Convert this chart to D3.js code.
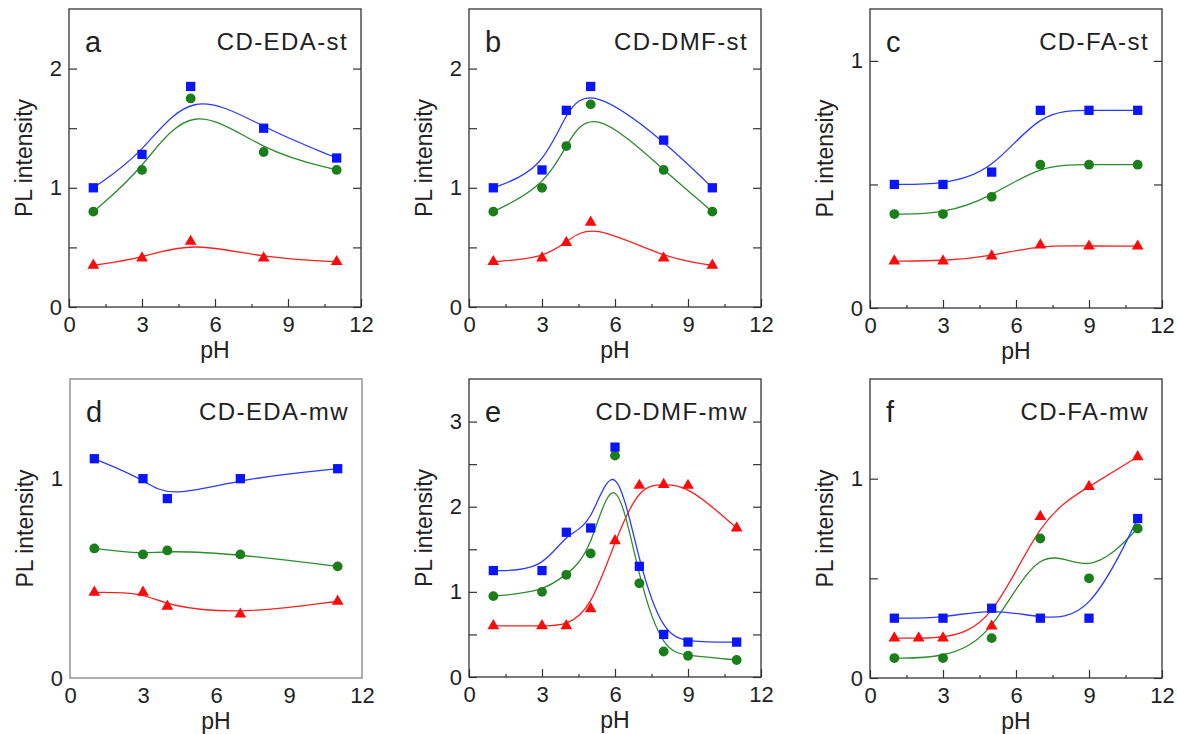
<!DOCTYPE html>
<html>
<head>
<meta charset="utf-8">
<script src="https://cdn.jsdelivr.net/npm/d3@7"></script>
<style>
  html, body { margin: 0; padding: 0; background: #fff; }
  svg { display: block; font-family: "Liberation Sans", Arial, sans-serif; }
</style>
</head>
<body>
<svg id="chart" width="1177" height="734"></svg>
<script>
// pH values and PL intensities (blue = square, green = circle, red = triangle)
const phA = [1, 3, 5, 8, 11];
const blueA = [1.0, 1.28, 1.85, 1.5, 1.25];
const greenA = [0.8, 1.15, 1.75, 1.3, 1.15];
const redA = [0.35, 0.41, 0.55, 0.41, 0.38];

const phB = [1, 3, 4, 5, 8, 10];
const blueB = [1.0, 1.15, 1.65, 1.85, 1.4, 1.0];
const greenB = [0.8, 1.0, 1.35, 1.7, 1.15, 0.8];
const redB = [0.38, 0.41, 0.54, 0.71, 0.41, 0.35];

const phC = [1, 3, 5, 7, 9, 11];
const blueC = [0.5, 0.5, 0.55, 0.8, 0.8, 0.8];
const greenC = [0.38, 0.38, 0.45, 0.58, 0.58, 0.58];
const redC = [0.19, 0.19, 0.21, 0.255, 0.25, 0.25];

const phD = [1, 3, 4, 7, 11];
const blueD = [1.1, 1.0, 0.9, 1.0, 1.05];
const greenD = [0.65, 0.62, 0.64, 0.62, 0.56];
const redD = [0.43, 0.43, 0.36, 0.32, 0.385];

const phE = [1, 3, 4, 5, 6, 7, 8, 9, 11];
const blueE = [1.25, 1.25, 1.7, 1.75, 2.7, 1.3, 0.5, 0.41, 0.41];
const greenE = [0.95, 1.0, 1.2, 1.45, 2.6, 1.1, 0.3, 0.25, 0.2];
const redE = [0.6, 0.6, 0.6, 0.8, 1.6, 2.25, 2.26, 2.25, 1.75];

const phF = [1, 3, 5, 7, 9, 11];
const phFRed = [1, 2, 3, 5, 7, 9, 11];
const blueF = [0.3, 0.3, 0.35, 0.3, 0.3, 0.8];
const greenF = [0.1, 0.1, 0.2, 0.7, 0.5, 0.75];
const redF = [0.2, 0.2, 0.2, 0.26, 0.81, 0.96, 1.11];

// axis ticks
const xMajor = [0, 3, 6, 9, 12];
const xMinor = [1.5, 4.5, 7.5, 10.5];

const COLORS = { blue: "#0a14ff", green: "#1a7f1a", red: "#ff0a0a" };
const LINE = { blue: "#2b3bff", green: "#2e8b2e", red: "#ff2020" };

const panels = [
  { letter: "a", title: "CD-EDA-st", left: 69, top: 9, bottom: 307, yMax: 2.5, yMajor: [0, 1, 2], yMinor: [0.5, 1.5],
    series: [["red", "triangle", phA, redA], ["green", "circle", phA, greenA], ["blue", "square", phA, blueA]] },
  { letter: "b", title: "CD-DMF-st", left: 469, top: 9, bottom: 307, yMax: 2.5, yMajor: [0, 1, 2], yMinor: [0.5, 1.5],
    series: [["red", "triangle", phB, redB], ["green", "circle", phB, greenB], ["blue", "square", phB, blueB]] },
  { letter: "c", title: "CD-FA-st", left: 870, top: 9, bottom: 308, yMax: 1.21, yMajor: [0, 1], yMinor: [0.5],
    series: [["red", "triangle", phC, redC], ["green", "circle", phC, greenC], ["blue", "square", phC, blueC]] },
  { letter: "d", title: "CD-EDA-mw", left: 70, top: 379, bottom: 678, yMax: 1.5, yMajor: [0, 1], yMinor: [], plain: true,
    series: [["red", "triangle", phD, redD], ["green", "circle", phD, greenD], ["blue", "square", phD, blueD]] },
  { letter: "e", title: "CD-DMF-mw", left: 469, top: 379, bottom: 677, yMax: 3.5, yMajor: [0, 1, 2, 3], yMinor: [0.5, 1.5, 2.5],
    series: [["red", "triangle", phE, redE], ["green", "circle", phE, greenE], ["blue", "square", phE, blueE]] },
  { letter: "f", title: "CD-FA-mw", left: 870, top: 379, bottom: 678, yMax: 1.5, yMajor: [0, 1], yMinor: [0.5],
    series: [["red", "triangle", phFRed, redF], ["green", "circle", phF, greenF], ["blue", "square", phF, blueF]] }
];

const W = 292;
const svg = d3.select("#chart");

const symbols = {
  square: d3.symbol().type(d3.symbolSquare).size(86),
  circle: d3.symbol().type(d3.symbolCircle).size(76),
  triangle: d3.symbol().type(d3.symbolTriangle).size(60)
};

panels.forEach(p => {
  const x = d3.scaleLinear().domain([0, 12]).range([p.left, p.left + W]);
  const y = d3.scaleLinear().domain([0, p.yMax]).range([p.bottom, p.top]);
  const g = svg.append("g");
  const tickCol = "#333";

  // bottom axis: labelled major ticks, short minor ticks
  g.append("g").attr("transform", `translate(0,${p.bottom})`)
    .call(d3.axisBottom(x).tickValues(xMajor).tickSize(p.plain ? 0 : -8).tickPadding(9).tickFormat(d3.format("d")));
  if (!p.plain) {
    g.append("g").attr("transform", `translate(0,${p.bottom})`)
      .call(d3.axisBottom(x).tickValues(xMinor).tickSize(-3).tickFormat(""));
  }
  // left axis, labelled; right axis mirrors the ticks
  g.append("g").attr("transform", `translate(${p.left},0)`)
    .call(d3.axisLeft(y).tickValues(p.yMajor).tickSize(p.plain ? 0 : -8).tickPadding(7).tickFormat(d3.format("d")));
  if (!p.plain) {
    g.append("g").attr("transform", `translate(${p.left},0)`)
      .call(d3.axisLeft(y).tickValues(p.yMinor).tickSize(-8).tickFormat(""));
    g.append("g").attr("transform", `translate(${p.left + W},0)`)
      .call(d3.axisRight(y).tickValues(p.yMajor.concat(p.yMinor)).tickSize(-8).tickFormat(""));
  }
  g.selectAll(".domain").remove();
  g.selectAll(".tick line").attr("stroke", tickCol).attr("stroke-width", 1.2);
  g.selectAll(".tick text")
    .attr("font-family", '"Liberation Sans", Arial, sans-serif')
    .attr("font-size", 22).attr("fill", "#222");

  // frame
  g.append("rect")
    .attr("x", p.left).attr("y", p.top)
    .attr("width", W).attr("height", p.bottom - p.top)
    .attr("fill", "none")
    .attr("stroke", p.plain ? "#9a9a9a" : "#333")
    .attr("stroke-width", p.plain ? 1.6 : 1.3);

  // smoothed curves and markers
  const line = d3.line().curve(d3.curveBasis).x(d => x(d[0])).y(d => y(d[1]));
  p.series.forEach(([col, shape, xs, ys]) => {
    const pts = xs.map((v, i) => [v, ys[i]]);
    g.append("path").datum(pts)
      .attr("d", line).attr("fill", "none")
      .attr("stroke", LINE[col]).attr("stroke-width", 1.3);
  });
  p.series.forEach(([col, shape, xs, ys]) => {
    const pts = xs.map((v, i) => [v, ys[i]]);
    g.selectAll(null).data(pts).enter().append("path")
      .attr("d", symbols[shape])
      .attr("transform", d => `translate(${x(d[0])},${y(d[1])})`)
      .attr("fill", COLORS[col]);
  });

  // axis titles
  g.append("text")
    .attr("x", p.left + W / 2).attr("y", p.bottom + 51)
    .attr("text-anchor", "middle").attr("font-size", 23).attr("fill", "#222")
    .text("pH");
  g.append("text")
    .attr("transform", `translate(${p.left - 37},${(p.top + p.bottom) / 2}) rotate(-90)`)
    .attr("text-anchor", "middle").attr("font-size", 23).attr("fill", "#222")
    .text("PL intensity");

  // panel letter and sample name
  g.append("text")
    .attr("x", p.left + 16).attr("y", p.top + 43)
    .attr("font-size", 29).attr("fill", "#222")
    .text(p.letter);
  g.append("text")
    .attr("x", p.left + W - 13).attr("y", p.top + 41)
    .attr("text-anchor", "end").attr("font-size", 24).attr("letter-spacing", 1.4).attr("fill", "#222")
    .text(p.title);
});
</script>
</body>
</html>
